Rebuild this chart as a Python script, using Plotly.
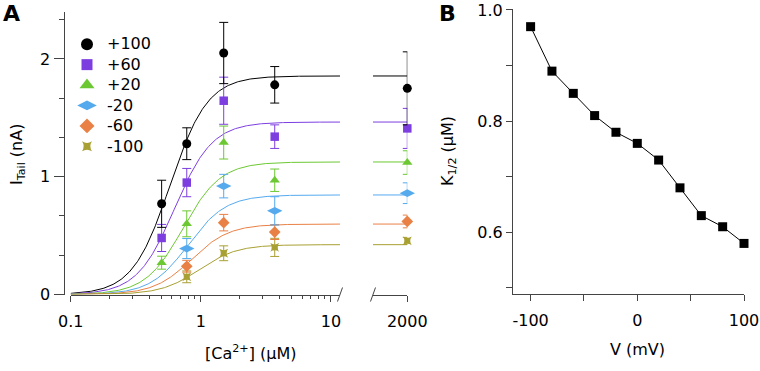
import numpy as np
import plotly.graph_objects as go

# ---------------- data ----------------
ca_conc = [0.5, 0.78, 1.5, 3.7]          # µM
ca_high = [2000]                          # µM (saturating)
voltages = ["+100", "+60", "+20", "-20", "-60", "-100"]

i_p100 = [0.77, 1.28, 2.05, 1.78]
e_p100 = [0.20, 0.135, 0.26, 0.155]
i_p60 = [0.48, 0.95, 1.645, 1.34]
e_p60 = [0.115, 0.12, 0.20, 0.10]
i_p20 = [0.27, 0.60, 1.29, 0.97]
e_p20 = [0.055, 0.11, 0.14, 0.095]
i_m20 = [None, 0.39, 0.92, 0.71]
e_m20 = [0, 0.085, 0.10, 0.12]
i_m60 = [None, 0.24, 0.61, 0.53]
e_m60 = [0, 0.05, 0.07, 0.063]
i_m100 = [None, 0.15, 0.35, 0.40]
e_m100 = [0, 0.05, 0.063, 0.077]

i_high = [1.75, 1.41, 1.12, 0.86, 0.62, 0.455]
e_high = [0.31, 0.17, 0.10, 0.088, 0.054, 0.03]

# Hill fit parameters per voltage
fit_imax = [1.855, 1.464, 1.125, 0.845, 0.598, 0.423]
fit_k = [0.58, 0.63, 0.73, 0.80, 0.85, 0.97]
fit_n = [3.0, 3.0, 3.0, 3.0, 3.0, 3.0]

# Panel B
v_mv = [-100, -80, -60, -40, -20, 0, 20, 40, 60, 80, 100]
k_half = [0.97, 0.89, 0.85, 0.81, 0.78, 0.76, 0.73, 0.68, 0.63, 0.61, 0.58]

# ---------------- styles ----------------
colors = ["#000000", "#7d3ee0", "#6cc832", "#55aaee", "#e98045", "#a8a032"]
symbols = ["circle", "square", "triangle-up", "diamond-wide", "diamond", "star-square"]
sizes = [9, 8.5, 9, 11, 9, 8]
leg_sizes = [12, 11, 13, 14, 11.5, 9]

W, H = 760, 371
FONT = "DejaVu Sans"
AX = "#444444"


def px(x):
    return x / W


def py(y):
    return 1 - y / H


series_i = [i_p100, i_p60, i_p20, i_m20, i_m60, i_m100]
series_e = [e_p100, e_p60, e_p20, e_m20, e_m60, e_m100]

fig = go.Figure()

xr_log = [-1, 1.07]
xfit = np.logspace(xr_log[0], xr_log[1], 300)

for j in range(6):
    c = colors[j]
    yfit = fit_imax[j] * xfit ** fit_n[j] / (xfit ** fit_n[j] + fit_k[j] ** fit_n[j])
    fig.add_trace(go.Scatter(x=xfit, y=yfit, mode="lines", line=dict(color=c, width=1),
                             xaxis="x", yaxis="y", showlegend=False, hoverinfo="skip"))
    fig.add_trace(go.Scatter(x=[1000, ca_high[0]], y=[fit_imax[j], fit_imax[j]], mode="lines",
                             line=dict(color=c, width=1), xaxis="x2", yaxis="y",
                             showlegend=False, hoverinfo="skip"))

for j in range(5, -1, -1):
    c = colors[j]
    fig.add_trace(go.Scatter(
        x=ca_conc, y=series_i[j], mode="markers",
        marker=dict(color=c, symbol=symbols[j], size=sizes[j], line=dict(width=0)),
        error_y=dict(type="data", array=series_e[j], color=c, thickness=1, width=4.5),
        xaxis="x", yaxis="y", showlegend=False, cliponaxis=False))
    fig.add_trace(go.Scatter(
        x=ca_high, y=[i_high[j]], mode="markers",
        marker=dict(color=c, symbol=symbols[j], size=sizes[j], line=dict(width=0)),
        error_y=dict(type="data", array=[e_high[j]], color=c, thickness=1, width=4.5),
        xaxis="x2", yaxis="y", showlegend=False, cliponaxis=False))

# legend-only entries
for j in range(6):
    fig.add_trace(go.Scatter(
        x=[None], y=[None], mode="markers",
        name='<span style="font-size:16px">%s</span>' % voltages[j],
        marker=dict(color=colors[j], symbol=symbols[j], size=leg_sizes[j], line=dict(width=0)),
        xaxis="x", yaxis="y", showlegend=True))

# Panel B
fig.add_trace(go.Scatter(x=v_mv, y=k_half, mode="lines+markers",
                         line=dict(color="black", width=1),
                         marker=dict(symbol="square", size=9, color="black"),
                         xaxis="x3", yaxis="y3", showlegend=False, cliponaxis=False))

tickfont = dict(family=FONT, size=16, color="black")
ybot_A = 294.5
ytop_A = 294.5 - 2.4 * 117.8

common = dict(showgrid=False, zeroline=False, showline=True, linecolor=AX, linewidth=1,
              ticks="outside", tickcolor=AX, tickfont=tickfont, automargin=False)

fig.update_layout(
    width=W, height=H,
    margin=dict(l=0, r=0, t=0, b=0, autoexpand=False),
    paper_bgcolor="white", plot_bgcolor="white",
    font=dict(family=FONT, size=16, color="black"),
    xaxis=dict(type="log", range=xr_log, domain=[px(70.7), px(340)], anchor="y",
               tickvals=[0.1, 1, 10], ticktext=["0.1", "1", "10"], ticklen=6,
               ticklabelstandoff=6,
               minor=dict(ticks="outside", ticklen=3, tickcolor=AX,
                          tickvals=[0.2, 0.3, 0.4, 0.5, 0.6, 0.7, 0.8, 0.9,
                                    2, 3, 4, 5, 6, 7, 8, 9]),
               **common),
    xaxis2=dict(type="linear", range=[1000, 2000], domain=[px(373), px(407.3)], anchor="y",
                tickvals=[2000], ticktext=["2000"], ticklen=6, ticklabelstandoff=6,
                **common),
    yaxis=dict(range=[0, 2.4], domain=[py(ybot_A), py(ytop_A)], anchor="free",
               position=px(63.5),
               tickvals=[0, 1, 2], ticktext=["0", "1", "2"], ticklen=10,
               minor=dict(ticks="outside", ticklen=5, tickcolor=AX, dtick=1 / 3, tick0=0),
               **common),
    xaxis3=dict(range=[-116.5, 100], domain=[px(513), px(744)], anchor="y3",
                tickvals=[-100, 0, 100], ticktext=["-100", "0", "100"], ticklen=6,
                ticklabelstandoff=6,
                minor=dict(ticks="outside", ticklen=6, tickcolor=AX, tickvals=[-50, 50]),
                **common),
    yaxis3=dict(range=[0.489, 1.0025], domain=[py(294), py(8.6)], anchor="x3",
                tickvals=[0.6, 0.8, 1.0], ticktext=["0.6", "0.8", "1.0"], ticklen=6,
                minor=dict(ticks="outside", ticklen=6, tickcolor=AX,
                           tickvals=[0.5, 0.7, 0.9]),
                **common),
    legend=dict(x=px(67), y=py(29), xanchor="left", yanchor="top",
                font=dict(family=FONT, size=13.4, color="black"),
                bgcolor="rgba(0,0,0,0)", borderwidth=0, tracegroupgap=0,
                itemwidth=30),
)

# axis break marks
for xc in [340, 373]:
    fig.add_shape(type="line", xref="paper", yref="paper",
                  x0=px(xc - 2.5), y0=py(301.5), x1=px(xc + 2.5), y1=py(287.5),
                  line=dict(color=AX, width=1))

ann = [
    dict(text="<b>A</b>", x=px(11), y=py(13), font=dict(family=FONT, size=22)),
    dict(text="<b>B</b>", x=px(448), y=py(14), font=dict(family=FONT, size=22)),
    dict(text="I<sub>Tail</sub> (nA)", x=px(17), y=py(155), textangle=-90,
         font=dict(family=FONT, size=16)),
    dict(text="[Ca<sup>2+</sup>] (µM)", x=px(251), y=py(352), font=dict(family=FONT, size=16)),
    dict(text="K<sub>1/2</sub> (µM)", x=px(448), y=py(151), textangle=-90,
         font=dict(family=FONT, size=16)),
    dict(text="V (mV)", x=px(637), y=py(349), font=dict(family=FONT, size=16)),
]
for a in ann:
    fig.add_annotation(xref="paper", yref="paper", showarrow=False,
                       xanchor="center", yanchor="middle", **a)

fig.write_html("out.html", config={"displayModeBar": False},
               post_script="document.body.style.margin='0';document.body.style.padding='0';")
